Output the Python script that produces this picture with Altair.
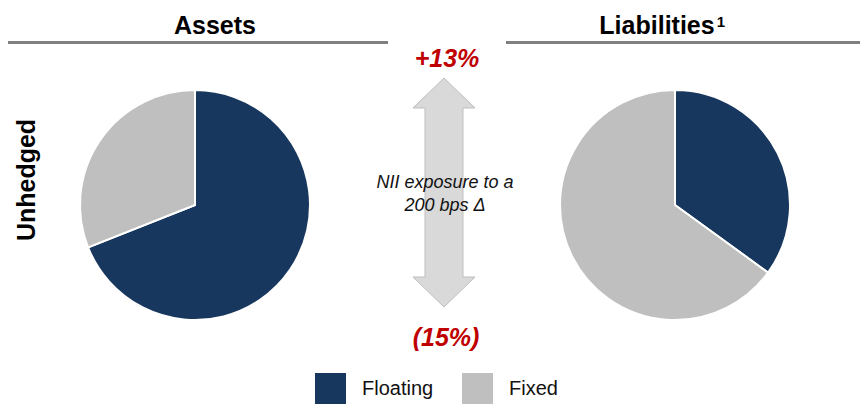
import altair as alt
import pandas as pd

# Funding mix (share of balance, %)
categories = ["Floating", "Fixed"]
assets_share = [69, 31]
liabilities_share = [35, 65]

# NII sensitivity to a 200 bps move
nii_up = "+13%"
nii_down = "(15%)"
nii_caption = ["NII exposure to a", "200 bps \u0394"]

panel_titles = ["Assets", "Liabilities"]
row_label = "Unhedged"

NAVY = "#17375E"
GREY = "#BFBFBF"
FONT = "Liberation Sans"

W, H = 860, 404


def pie_frame(values):
    return pd.DataFrame({
        "category": categories,
        "share": values,
        "rank": list(range(len(categories))),
    })


color = alt.Color(
    "category:N",
    scale=alt.Scale(domain=categories, range=[NAVY, GREY]),
    sort=categories,
    legend=alt.Legend(
        title=None,
        orient="none",
        legendX=315,
        legendY=373,
        direction="horizontal",
        symbolType="square",
        symbolSize=960,
        symbolStrokeWidth=0,
        symbolOpacity=1,
        labelFont=FONT,
        labelFontSize=20,
        labelColor="#111111",
        labelOffset=16,
        columnPadding=28,
        padding=0,
    ),
)


def pie(values, cx, cy):
    return (
        alt.Chart(pie_frame(values))
        .mark_arc(radius=115, stroke="white", strokeWidth=2)
        .encode(
            theta=alt.Theta("share:Q", stack=True),
            color=color,
            order=alt.Order("rank:Q"),
            x=alt.value(cx),
            y=alt.value(cy),
        )
    )


def label(text, x, y, size, weight="normal", style="normal", col="#000000",
          angle=0, align="center"):
    return (
        alt.Chart(pd.DataFrame({"t": [text]}))
        .mark_text(
            font=FONT,
            fontSize=size,
            fontWeight=weight,
            fontStyle=style,
            color=col,
            angle=angle,
            align=align,
            baseline="alphabetic",
        )
        .encode(text="t:N", x=alt.value(x), y=alt.value(y))
    )


def rule(x1, x2, y):
    return (
        alt.Chart(pd.DataFrame({"a": [0]}))
        .mark_rule(color="#808080", strokeWidth=3)
        .encode(x=alt.value(x1), x2=alt.value(x2), y=alt.value(y))
    )


# double-headed arrow as a custom symbol in [-1, 1] units
arrow_path = (
    "M0,-1 L0.271,-0.738 L0.166,-0.738 L0.166,0.738 L0.271,0.738 "
    "L0,1 L-0.271,0.738 L-0.166,0.738 L-0.166,-0.738 L-0.271,-0.738 Z"
)
arrow = (
    alt.Chart(pd.DataFrame({"a": [0]}))
    .mark_point(
        shape=arrow_path,
        filled=True,
        fill="#D9D9D9",
        stroke="#BFBFBF",
        strokeWidth=1,
        opacity=1,
        size=229 * 229,
    )
    .encode(x=alt.value(444), y=alt.value(192.5))
)

red = "#C00000"
layers = [
    rule(8, 388, 42.5),
    rule(506, 860, 42.5),
    label(panel_titles[0], 215, 34, 25, weight="bold"),
    label(panel_titles[1], 657, 34, 25, weight="bold"),
    label("1", 721, 27, 15, weight="bold"),
    label(row_label, 35, 180, 25, weight="bold", angle=270),
    pie(assets_share, 195, 205),
    pie(liabilities_share, 675, 205),
    arrow,
    label(nii_up, 447, 67, 25, weight="bold", style="italic", col=red),
    label(nii_down, 446, 346, 25, weight="bold", style="italic", col=red),
    label(nii_caption[0], 445, 188, 18, style="italic", col="#111111"),
    label(nii_caption[1], 445, 211, 18, style="italic", col="#111111"),
]

chart = (
    alt.layer(*layers)
    .properties(width=W, height=H, padding=0, autosize="none", background="white")
    .configure_view(stroke=None)
)

chart.save("out.html", embed_options={"renderer": "svg", "actions": False})
